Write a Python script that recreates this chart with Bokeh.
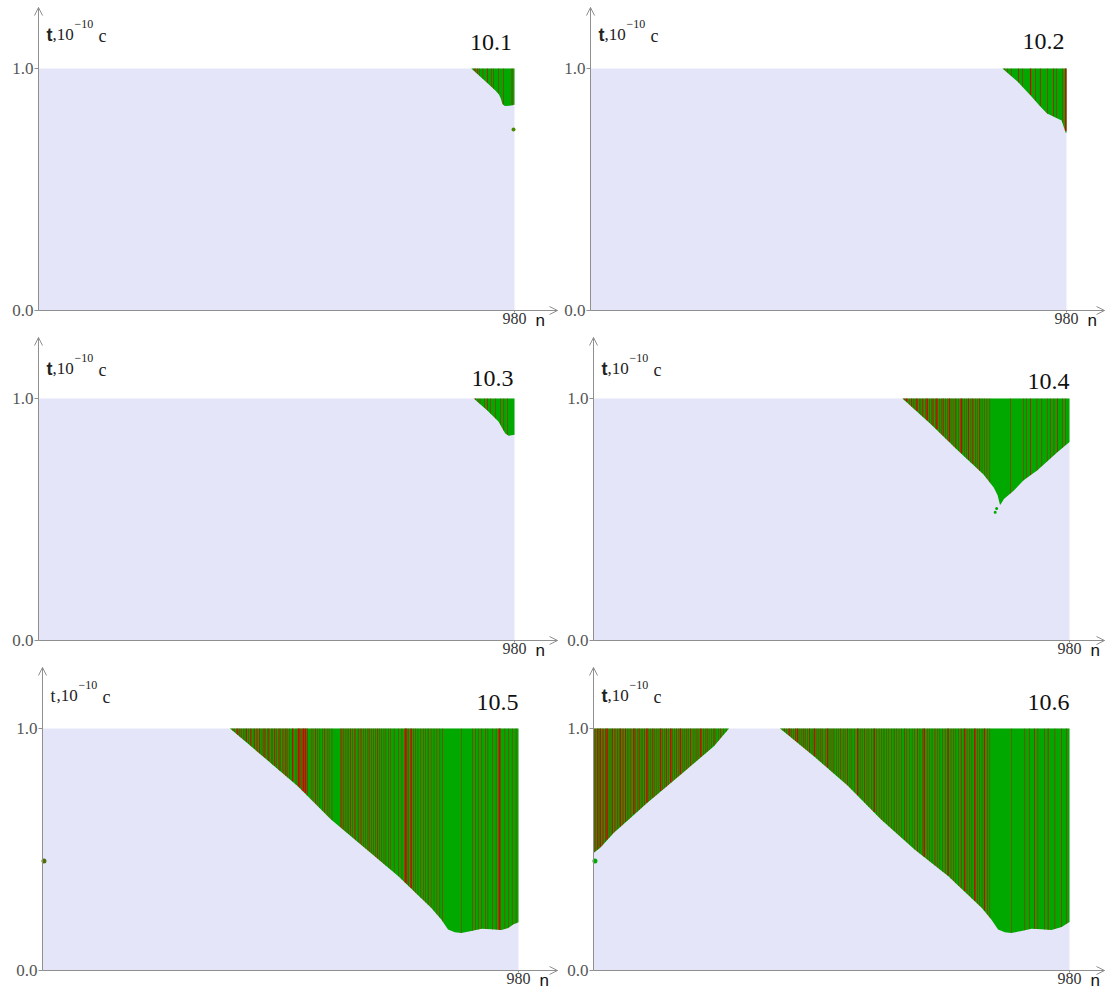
import numpy as np
from bokeh.plotting import figure
from bokeh.layouts import column, row
from bokeh.models import Range1d, FixedTicker, NumeralTickFormatter, Label, Arrow, OpenHead
from bokeh.embed import file_html
from bokeh.resources import INLINE

# ---------------- data ----------------
N_MAX = 980
titles = ["10.1", "10.2", "10.3", "10.4", "10.5", "10.6"]

# upper edge (n, t) of the lavender region (the coloured region lies above it, up to t = 1)
b1_n = [0, 891, 916, 940, 948, 952, 955, 960, 970, 980]
b1_t = [1.0, 1.0, 0.955, 0.91, 0.893, 0.875, 0.853, 0.845, 0.846, 0.85]
b2_n = [0, 848, 879, 906, 926, 940, 957, 970, 974, 978, 980]
b2_t = [1.0, 1.0, 0.946, 0.888, 0.843, 0.814, 0.798, 0.785, 0.76, 0.736, 0.735]
b3_n = [0, 896, 924, 947, 955, 961, 968, 980]
b3_t = [1.0, 1.0, 0.95, 0.905, 0.876, 0.855, 0.846, 0.85]
b4_n = [0, 636, 694, 749, 803, 824, 832, 835, 837, 840, 845, 865, 885, 914, 955, 980]
b4_t = [1.0, 1.0, 0.895, 0.787, 0.686, 0.632, 0.6, 0.575, 0.56, 0.568, 0.585, 0.619, 0.661, 0.703, 0.778, 0.82]
b5_n = [0, 386, 457, 525, 594, 663, 732, 800, 821, 835, 849, 862, 883, 904, 924, 945, 959, 969, 980]
b5_t = [1.0, 1.0, 0.879, 0.762, 0.624, 0.507, 0.39, 0.259, 0.211, 0.169, 0.158, 0.155, 0.163, 0.173, 0.17, 0.167, 0.176, 0.19, 0.199]
b6_n = [0, 14, 42, 56, 111, 180, 248, 279, 384, 455, 523, 592, 661, 730, 799, 819, 833, 847, 860, 881, 902, 922, 943, 964, 980]
b6_t = [0.486, 0.507, 0.569, 0.594, 0.693, 0.81, 0.927, 1.0, 1.0, 0.883, 0.764, 0.624, 0.5, 0.39, 0.259, 0.211, 0.169, 0.158, 0.155, 0.163, 0.173, 0.17, 0.167, 0.18, 0.2]

# red stripes: centre n and width (in n)
red1_n = [897, 900, 904, 908, 915, 924, 932, 937, 947, 957, 975]
red1_w = [1.5, 1, 1.5, 1, 1, 1.5, 1, 1, 1, 1, 1.5]
red2_n = [852, 858, 866, 881, 889, 906, 916, 926, 941, 953, 959, 972, 978.5]
red2_w = [1, 1, 1, 1.5, 1, 2.5, 1, 1.5, 1, 1.5, 1, 1, 3]
red3_n = [900, 905, 909, 918, 924, 931, 941, 951, 958, 966]
red3_w = [1.5, 1, 1, 1, 1.5, 1, 1, 1, 1, 1]
red4_n = [638, 641, 645, 651, 655, 659, 662, 666, 671, 674, 678, 683, 687, 692, 696, 699, 704, 707,
          713, 717, 720, 725, 729, 733, 738, 742, 746, 751, 755, 758, 764, 768, 772, 777, 781, 786,
          790, 795, 800, 805, 810, 816, 858, 885, 892, 900, 913, 923, 934, 941, 948, 955, 965, 972]
red4_w = [1, 2, 3, 1, 2, 1, 1, 3, 1, 1, 2, 1, 3, 1, 1, 2, 1, 3,
          1, 1, 2, 1, 1, 3, 1, 1, 2, 1, 1, 3, 1, 1, 2, 1, 2, 1,
          1, 2, 1, 1, 1, 1, 1, 1, 1, 1.5, 1, 1, 1, 1, 1, 1.5, 1, 1]
red5_n = [388, 392, 395, 399, 402, 406, 409, 414, 417, 420, 424, 428, 431, 436, 440, 443, 447, 452,
          455, 458, 463, 466, 471, 474, 478, 482, 486, 489, 494, 497, 501, 505, 508,
          515, 522, 527, 530, 534, 537, 541, 545,
          553, 557, 562, 566, 571, 577, 581, 586, 590, 596,
          613, 616, 619, 623, 627, 630, 634, 638, 642, 645, 650, 654, 657, 661, 665, 670, 673, 677,
          681, 686, 690, 694, 698, 703, 707, 712, 716,
          724, 733, 740,
          747, 750, 754, 759, 764, 768, 773, 779, 784, 789, 794, 800, 806, 812, 818, 824,
          862, 885, 891, 897, 904, 912, 917, 926, 934, 941, 952, 960, 967, 975]
red5_w = [1, 1.5, 1, 1, 2, 1, 1.5, 1, 1, 2, 1, 1.5, 1, 2, 1, 1, 2, 1,
          1, 2, 1, 2, 1, 1, 2, 1, 1, 2, 1, 1, 2, 1, 1,
          3, 1, 3, 2, 1, 3, 3, 2,
          1, 1, 1.5, 1, 1, 1, 1.5, 1, 1, 1,
          1, 1, 1.5, 1, 1, 1, 1.5, 1, 1, 1, 1.5, 1, 1, 1, 1, 1.5, 1, 1,
          1, 1, 1.5, 1, 1, 1, 1, 1, 1,
          1, 1, 1,
          3, 2, 1, 3, 1, 1, 1, 1, 1, 1, 1.5, 1, 1, 1, 1, 1,
          0.8, 1, 1, 1, 1, 1, 1, 1, 1, 4, 1, 1, 1, 1]
red6_n = [1, 4, 8, 11, 14, 18, 21, 25, 28, 32, 36, 39, 43, 46, 50, 55, 59, 62, 66, 70, 73, 77,
          83, 87, 90, 94, 98, 101, 105, 110, 114, 118, 122, 126, 129, 133, 138, 142, 146, 150,
          154, 159, 163, 167, 171, 175, 179, 184, 188, 192, 196, 200, 205, 209, 213, 217, 221,
          226, 230, 234, 238, 243, 248, 252, 257, 262, 268, 273,
          386, 390, 393, 397, 401, 404, 408, 412, 416, 420, 425, 429, 433, 437, 441, 445, 450,
          455, 460, 464, 468, 472, 477, 482, 487, 491, 495, 500, 504, 509, 514, 518, 523, 528,
          532, 537, 544, 549, 553, 558, 563, 567, 572, 578, 583, 588, 593, 598, 603, 608, 614,
          619, 624, 629, 634, 640, 645, 650, 656, 661, 667, 672, 677, 681, 687, 692, 697, 703,
          708, 713, 719, 724, 730, 736, 741, 746, 752, 757, 764, 769, 774, 779, 785, 790, 795,
          800, 805, 811, 816,
          860, 888, 898, 908, 915, 929, 936, 950, 963, 974]
red6_w = [1.5, 1, 2, 1, 3, 1, 1, 1.5, 3, 1, 1, 2, 1, 1, 1.5, 3, 1, 1, 2, 1, 1, 1.5,
          3, 1, 1, 2, 1, 1, 1.5, 3, 1, 1, 2, 1, 1, 1, 3, 1, 1, 2,
          1, 3, 1, 1, 1.5, 1, 3, 1, 1, 1.5, 1, 2, 1, 1, 1.5, 1, 3,
          1, 1, 1.5, 1, 1, 2, 1, 1, 1.5, 1, 1,
          1, 1, 1.5, 1, 1, 2, 1, 1, 1.5, 3, 1, 1, 1.5, 1, 1, 2, 1,
          3, 1, 1, 1.5, 1, 1, 3, 1, 1, 1.5, 1, 1, 1.5, 1, 1, 1.5, 1,
          1, 1, 3, 1, 1, 1.5, 1, 1, 1, 3, 1, 1, 1, 1.5, 1, 1, 1,
          1.5, 1, 1, 1, 1.5, 1, 1, 1, 1, 1.5, 1, 1, 3, 1, 1, 1, 1.5,
          1, 1, 1, 1, 3, 1, 1, 1, 1, 1.5, 3, 1, 1, 1, 3, 1, 1,
          1, 2.5, 1, 1,
          0.8, 1, 1, 1.5, 1, 1, 1.5, 1, 1, 1]

# isolated coloured spots (n, t)
dot1_n, dot1_t = [978], [0.748]
dot2_n, dot2_t = [], []
dot3_n, dot3_t = [], []
dot4_n, dot4_t = [827, 830], [0.53, 0.545]
dot5_n, dot5_t = [3], [0.452]
dot6_n, dot6_t = [3], [0.452]

bounds = [(b1_n, b1_t), (b2_n, b2_t), (b3_n, b3_t), (b4_n, b4_t), (b5_n, b5_t), (b6_n, b6_t)]
reds = [(red1_n, red1_w), (red2_n, red2_w), (red3_n, red3_w), (red4_n, red4_w), (red5_n, red5_w), (red6_n, red6_w)]
dots = [(dot1_n, dot1_t), (dot2_n, dot2_t), (dot3_n, dot3_t), (dot4_n, dot4_t), (dot5_n, dot5_t), (dot6_n, dot6_t)]

# ---------------- style / layout ----------------
GREEN = "#00a800"
RED = "#d80000"
LAV = "#e4e5f8"
AX = "#8f8f8f"
SERIF = "Liberation Serif"
SANS = "Liberation Sans"

PPN = 476 / 980.0          # px per n
PPT = 242.0                # px per t
ROW_H = 330
T1_PX = 68                 # px from figure top to t = 1
T0_PX = T1_PX + PPT        # px from figure top to t = 0
TIP_PX = 7                 # y-axis arrow tip from figure top
col_w = [560, 545]
left_px = [[38, 30], [38, 33], [42, 33]]
xtip_px = [557, 544]
title_up = [26, 27, 20, 17, 26, 26]
title_right = [975, 976, 978, 980, 980, 980]
tlab_up = [34, 30, 33]
dot_col = ["#4a8a00", GREEN, GREEN, GREEN, "#4f6f00", GREEN]
dot_size = [4, 0, 0, 3, 5, 5]
t_bold = [True, True, True, True, False, True]


def make_panel(i, r, c):
    W, L = col_w[c], left_px[r][c]
    x0 = -L / PPN
    x1 = (W - L) / PPN
    xtip = (xtip_px[c] - L) / PPN
    ytop = T0_PX / PPT
    ybot = -(ROW_H - T0_PX) / PPT
    ytip = (T0_PX - TIP_PX) / PPT
    p = figure(width=W, height=ROW_H, x_range=Range1d(x0, x1), y_range=Range1d(ybot, ytop),
               output_backend="svg", toolbar_location=None, min_border=0,
               min_border_left=0, min_border_right=0, min_border_top=0, min_border_bottom=0)
    p.outline_line_color = None
    p.xgrid.visible = False
    p.ygrid.visible = False
    p.background_fill_color = "white"
    p.border_fill_color = "white"

    bn, bt = bounds[i]
    p.quad(left=[0], right=[N_MAX], bottom=[0], top=[1], fill_color=LAV, line_color=None)
    p.varea(x=bn, y1=bt, y2=[1] * len(bn), fill_color=GREEN)
    rn, rw = np.array(reds[i][0], float), np.array(reds[i][1], float)
    rb = np.maximum(np.interp(rn - rw / 2, bn, bt), np.interp(rn + rw / 2, bn, bt))
    p.vbar(x=rn, width=rw, bottom=rb, top=1, fill_color=RED, line_color=None)
    dn, dt = dots[i]
    if dn:
        p.scatter(x=dn, y=dt, size=dot_size[i], marker="circle", fill_color=dot_col[i], line_color=None)

    xa = p.xaxis[0]
    xa.fixed_location = 0
    xa.bounds = (0, xtip)
    xa.ticker = FixedTicker(ticks=[N_MAX])
    xa.axis_line_color = AX
    xa.major_tick_line_color = AX
    xa.minor_tick_line_color = None
    xa.major_tick_in = 0
    xa.major_tick_out = 2
    xa.major_label_standoff = 0
    xa.major_label_text_font = SERIF
    xa.major_label_text_font_size = "16px"
    xa.major_label_text_color = "#333333"

    ya = p.yaxis[0]
    ya.fixed_location = 0
    ya.bounds = (0, ytip)
    ya.ticker = FixedTicker(ticks=[0, 1])
    ya.formatter = NumeralTickFormatter(format="0.0")
    ya.axis_line_color = AX
    ya.major_tick_line_color = AX
    ya.minor_tick_line_color = None
    ya.major_tick_in = 0
    ya.major_tick_out = 4
    ya.major_label_standoff = 1
    ya.major_label_text_font = SERIF
    ya.major_label_text_font_size = "17px"
    ya.major_label_text_color = "#555555"

    p.add_layout(Arrow(end=OpenHead(size=8, line_color=AX, line_width=1),
                       x_start=0, y_start=ytip - 0.04, x_end=0, y_end=ytip,
                       line_color=AX, line_width=1))
    p.add_layout(Arrow(end=OpenHead(size=8, line_color=AX, line_width=1),
                       x_start=xtip - 20, y_start=0, x_end=xtip, y_end=0,
                       line_color=AX, line_width=1))

    p.add_layout(Label(x=title_right[i], y=1 + title_up[i] / PPT, text=titles[i], text_font=SERIF,
                       text_font_size="24px", text_align="right",
                       text_baseline="alphabetic", text_color="#111111"))
    ty = 1 + tlab_up[r] / PPT
    if t_bold[i]:
        p.add_layout(Label(x=0, y=ty, x_offset=8, text="t", text_font=SANS,
                           text_font_style="bold", text_font_size="18px",
                           text_baseline="alphabetic", text_color="#222222"))
    else:
        p.add_layout(Label(x=0, y=ty, x_offset=8, text="t", text_font=SERIF,
                           text_font_size="18px",
                           text_baseline="alphabetic", text_color="#222222"))
    p.add_layout(Label(x=0, y=ty, x_offset=14, text=",10", text_font=SERIF,
                       text_font_size="17px", text_baseline="alphabetic", text_color="#222222"))
    p.add_layout(Label(x=0, y=ty + 11 / PPT, x_offset=36, text="\u221210", text_font=SERIF,
                       text_font_size="12px", text_baseline="alphabetic", text_color="#222222"))
    p.add_layout(Label(x=0, y=ty - 1 / PPT, x_offset=60, text="c", text_font=SERIF,
                       text_font_size="18px", text_baseline="alphabetic", text_color="#222222"))
    p.add_layout(Label(x=N_MAX, y=0, x_offset=21, y_offset=-10, text="n", text_font=SANS,
                       text_font_size="17px", text_baseline="alphabetic", text_color="#111111"))
    return p


rows = []
for r in range(3):
    rows.append(row(make_panel(2 * r, r, 0), make_panel(2 * r + 1, r, 1)))
layout = column(*rows)

open("out.html", "w").write(file_html(layout, INLINE))
